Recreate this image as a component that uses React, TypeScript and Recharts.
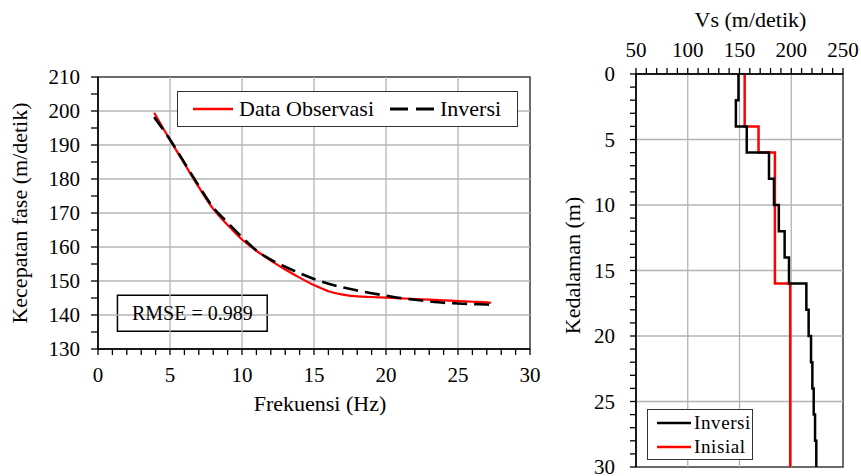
import React from 'react';
import { LineChart, Line, XAxis, YAxis, ReferenceLine, ReferenceArea, Legend } from 'recharts';

const FONT = '"Liberation Serif", "Times New Roman", Times, serif';

// ---- Left chart: dispersion curve ----
const freqHz = [3.9, 5, 6, 7, 8, 9, 10, 11, 12, 13, 14, 15, 16, 17, 18, 19, 20, 21, 22, 23, 24, 25, 26, 27, 27.3];
const velObservasi = [199.5, 191.5, 184.5, 177.6, 171.2, 166.5, 162.2, 158.9, 156.0, 153.4, 151.0, 148.8, 147.0, 146.0, 145.5, 145.3, 145.1, 144.9, 144.7, 144.5, 144.3, 144.1, 143.9, 143.7, 143.6];
const velInversi = [198.2, 191.6, 184.8, 178.0, 171.6, 167.2, 162.9, 159.0, 156.3, 154.2, 152.3, 150.6, 149.2, 148.1, 147.2, 146.4, 145.7, 145.0, 144.5, 144.0, 143.6, 143.4, 143.2, 143.1, 143.0];

const freqTicks = [0, 1, 2, 3, 4, 5, 6, 7, 8, 9, 10, 11, 12, 13, 14, 15, 16, 17, 18, 19, 20, 21, 22, 23, 24, 25, 26, 27, 28, 29, 30];
const velTicks = [130, 135, 140, 145, 150, 155, 160, 165, 170, 175, 180, 185, 190, 195, 200, 205, 210];
const freqGrid = [5, 10, 15, 20, 25];
const velGrid = [140, 150, 160, 170, 180, 190, 200];

const dispersionData = freqHz.map((f, i) => ({ f, obs: velObservasi[i], inv: velInversi[i] }));

// ---- Right chart: Vs profile ----
const depthBoundsInversi = [0, 2, 4, 6, 8, 10, 12, 14, 16, 18, 20, 22, 24, 26, 28, 30];
const vsInversi = [149, 146.5, 157, 178.5, 183.3, 188, 193.6, 197.8, 214.6, 216.8, 219.1, 220.4, 221.7, 223, 224.2];
const depthBoundsInisial = [0, 4, 6, 16, 30];
const vsInisial = [155, 168.4, 184.2, 199];

const vsTicks = [50, 60, 70, 80, 90, 100, 110, 120, 130, 140, 150, 160, 170, 180, 190, 200, 210, 220, 230, 240, 250];
const depthTicks = [0, 1, 2, 3, 4, 5, 6, 7, 8, 9, 10, 11, 12, 13, 14, 15, 16, 17, 18, 19, 20, 21, 22, 23, 24, 25, 26, 27, 28, 29, 30];
const vsGrid = [100, 150, 200];
const depthGrid = [5, 10, 15, 20, 25];

const stepProfile = (bounds: number[], vs: number[]) =>
  vs.flatMap((v, i) => [
    { vs: v, depth: bounds[i] },
    { vs: v, depth: bounds[i + 1] },
  ]);

const profileInversi = stepProfile(depthBoundsInversi, vsInversi);
const profileInisial = stepProfile(depthBoundsInisial, vsInisial);

const gridColor = '#b4b4b4';
const serif = { fontFamily: FONT };

const makeTick = (step: number, anchor: 'start' | 'middle' | 'end', dy: string) => (props: any) => {
  const v = props.payload?.value;
  if (v === undefined || v % step !== 0) return <g />;
  return (
    <text x={props.x} y={props.y} dy={dy} textAnchor={anchor} fill="#000" fontSize={21} style={serif}>
      {String(v)}
    </text>
  );
};

const LeftLegend = () => (
  <div
    style={{
      boxSizing: 'border-box',
      width: 341,
      height: 36,
      border: '1.5px solid #333',
      background: '#fff',
      display: 'flex',
      alignItems: 'center',
      fontFamily: FONT,
      fontSize: 22,
      color: '#000',
      paddingLeft: 15,
      whiteSpace: 'nowrap',
    }}
  >
    <svg width={42} height={10} style={{ marginRight: 4 }}>
      <line x1={0} y1={5} x2={40} y2={5} stroke="#ff0000" strokeWidth={2.5} />
    </svg>
    <span>Data Observasi</span>
    <svg width={46} height={10} style={{ marginLeft: 16, marginRight: 4 }}>
      <line x1={0} y1={5} x2={45} y2={5} stroke="#000" strokeWidth={3} strokeDasharray="18 8" />
    </svg>
    <span>Inversi</span>
  </div>
);

const RightLegend = () => (
  <div
    style={{
      boxSizing: 'border-box',
      width: 106,
      height: 51,
      border: '1.5px solid #333',
      background: '#fff',
      fontFamily: FONT,
      fontSize: 19,
      letterSpacing: 0.6,
      color: '#000',
      paddingLeft: 9,
      paddingTop: 1,
      lineHeight: '24px',
      whiteSpace: 'nowrap',
    }}
  >
    <div style={{ display: 'flex', alignItems: 'center' }}>
      <svg width={36} height={10} style={{ marginRight: 1 }}>
        <line x1={0} y1={5} x2={34} y2={5} stroke="#000" strokeWidth={2.5} />
      </svg>
      <span>Inversi</span>
    </div>
    <div style={{ display: 'flex', alignItems: 'center' }}>
      <svg width={36} height={10} style={{ marginRight: 1 }}>
        <line x1={0} y1={5} x2={34} y2={5} stroke="#ff0000" strokeWidth={2.5} />
      </svg>
      <span>Inisial</span>
    </div>
  </div>
);

export default function App() {
  return (
    <div
      style={{
        position: 'absolute',
        left: 0,
        top: 0,
        width: 861,
        height: 476,
        background: '#fff',
        overflow: 'hidden',
        fontFamily: FONT,
      }}
    >
      <div style={{ position: 'absolute', left: 0, top: 0 }}>
        <LineChart width={560} height={476} data={dispersionData} margin={{ top: 77, right: 30, bottom: 57, left: 0 }}>
          {freqGrid.map((v) => (
            <ReferenceLine key={'fx' + v} x={v} stroke={gridColor} strokeWidth={1.3} />
          ))}
          {velGrid.map((v) => (
            <ReferenceLine key={'fy' + v} y={v} stroke={gridColor} strokeWidth={1.3} />
          ))}
          <ReferenceArea x1={0} x2={30} y1={130} y2={210} fill="none" stroke="#3a3a3a" strokeWidth={1.5} />
          <XAxis
            dataKey="f"
            type="number"
            domain={[0, 30]}
            ticks={freqTicks}
            interval={0}
            allowDataOverflow
            height={70}
            tickSize={6}
            tickMargin={12}
            tick={makeTick(5, 'middle', '0.71em')}
            axisLine={{ stroke: '#000', strokeWidth: 1.5 }}
            tickLine={{ stroke: '#000', strokeWidth: 1.3 }}
            label={{
              content: (p: any) => {
                const vb = p.viewBox || {};
                return (
                  <text x={vb.x + vb.width / 2 + 6} y={411} textAnchor="middle" fontSize={22} fill="#000" style={serif}>
                    Frekuensi (Hz)
                  </text>
                );
              },
            }}
          />
          <YAxis
            type="number"
            domain={[130, 210]}
            ticks={velTicks}
            interval={0}
            allowDataOverflow
            width={98}
            tickSize={7}
            tickMargin={11}
            tick={makeTick(10, 'end', '0.34em')}
            axisLine={{ stroke: '#000', strokeWidth: 1.5 }}
            tickLine={{ stroke: '#000', strokeWidth: 1.3 }}
            label={{
              content: (p: any) => {
                const vb = p.viewBox || {};
                const cy = vb.y + vb.height / 2;
                return (
                  <text
                    x={20}
                    y={cy}
                    transform={`rotate(-90, 20, ${cy})`}
                    textAnchor="middle"
                    dy="0.34em"
                    fontSize={22}
                    fill="#000"
                    style={serif}
                  >
                    Kecepatan fase (m/detik)
                  </text>
                );
              },
            }}
          />
          <ReferenceArea
            x1={1.35}
            x2={11.75}
            y1={135.2}
            y2={145.8}
            fill="#fff"
            fillOpacity={1}
            stroke="#000"
            strokeWidth={1.5}
            label={{ value: 'RMSE = 0.989', position: 'center', fontFamily: FONT, fontSize: 20, fill: '#000' }}
          />
          <Line type="monotone" dataKey="obs" stroke="#ff0000" strokeWidth={2.2} dot={false} isAnimationActive={false} />
          <Line
            type="monotone"
            dataKey="inv"
            stroke="#000"
            strokeWidth={2.6}
            strokeDasharray="15 7"
            dot={false}
            isAnimationActive={false}
          />
          <Legend
            layout="horizontal"
            verticalAlign="middle"
            align="center"
            content={() => <LeftLegend />}
            wrapperStyle={{ position: 'absolute', left: 177, top: 91, width: 341, height: 36, margin: 0 }}
          />
        </LineChart>
      </div>

      <div style={{ position: 'absolute', left: 560, top: 0 }}>
        <LineChart width={301} height={476} margin={{ top: 0, right: 18, bottom: 9, left: 0 }}>
          {vsGrid.map((v) => (
            <ReferenceLine key={'vx' + v} x={v} stroke={gridColor} strokeWidth={1.3} />
          ))}
          {depthGrid.map((v) => (
            <ReferenceLine key={'dy' + v} y={v} stroke={gridColor} strokeWidth={1.3} />
          ))}
          <ReferenceArea x1={50} x2={250} y1={0} y2={30} fill="none" stroke="#3a3a3a" strokeWidth={1.5} />
          <XAxis
            dataKey="vs"
            type="number"
            orientation="top"
            domain={[50, 250]}
            ticks={vsTicks}
            interval={0}
            allowDataOverflow
            height={74}
            tickSize={6}
            tickMargin={11}
            tick={makeTick(50, 'middle', '0')}
            axisLine={{ stroke: '#000', strokeWidth: 1.5 }}
            tickLine={{ stroke: '#000', strokeWidth: 1.3 }}
            label={{
              content: (p: any) => {
                const vb = p.viewBox || {};
                return (
                  <text x={vb.x + vb.width / 2 + 11} y={27} textAnchor="middle" fontSize={22} fill="#000" style={serif}>
                    Vs (m/detik)
                  </text>
                );
              },
            }}
          />
          <YAxis
            dataKey="depth"
            type="number"
            reversed
            domain={[0, 30]}
            ticks={depthTicks}
            interval={0}
            allowDataOverflow
            width={76}
            tickSize={6}
            tickMargin={15}
            tick={makeTick(5, 'end', '0.34em')}
            axisLine={{ stroke: '#000', strokeWidth: 1.5 }}
            tickLine={{ stroke: '#000', strokeWidth: 1.3 }}
            label={{
              content: (p: any) => {
                const vb = p.viewBox || {};
                const cy = vb.y + vb.height / 2 - 5;
                const cx = 13;
                return (
                  <text
                    x={cx}
                    y={cy}
                    transform={`rotate(-90, ${cx}, ${cy})`}
                    textAnchor="middle"
                    dy="0.34em"
                    fontSize={22}
                    fill="#000"
                    style={serif}
                  >
                    Kedalaman (m)
                  </text>
                );
              },
            }}
          />
          <Line data={profileInisial} type="linear" dataKey="depth" stroke="#ff0000" strokeWidth={2.5} dot={false} isAnimationActive={false} />
          <Line data={profileInversi} type="linear" dataKey="depth" stroke="#000" strokeWidth={2.5} dot={false} isAnimationActive={false} />
          <Legend
            layout="horizontal"
            verticalAlign="middle"
            align="center"
            content={() => <RightLegend />}
            wrapperStyle={{ position: 'absolute', left: 87, top: 409, width: 106, height: 51, margin: 0 }}
          />
        </LineChart>
      </div>
    </div>
  );
}
